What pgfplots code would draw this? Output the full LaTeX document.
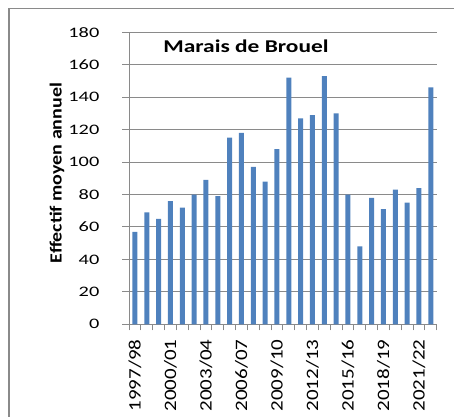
\documentclass[border=0pt]{standalone}
\usepackage{fontspec}
\setmainfont{Carlito}
\usepackage{pgfplots}
\pgfplotsset{compat=1.18}
\definecolor{barblue}{HTML}{4F81BD}
\definecolor{gridgray}{HTML}{8A8A8A}
\begin{document}
\begin{tikzpicture}[x=1bp,y=1bp]
\useasboundingbox (0,0) rectangle (454,416);
\draw[gridgray, line width=1.3bp] (9,-10) -- (9,407.5) -- (470,407.5);
\begin{axis}[
  at={(129bp,91.7bp)}, anchor=south west,
  scale only axis, width=307.7bp, height=292bp,
  xmin=-0.5, xmax=25.5, ymin=0, ymax=180,
  ybar, bar width=5bp,
  ytick={0,20,...,180},
  ymajorgrids, grid style={gridgray, line width=1bp},
  axis x line*=bottom, axis y line*=left,
  axis line style={gridgray, line width=1bp, -},
  tick align=outside,
  major tick length=7bp, minor tick length=6bp,
  major x tick style={draw=none},
  minor x tick style={gridgray, line width=1bp},
  major y tick style={gridgray, line width=1bp},
  xtick={0,...,25},
  minor xtick={-0.5,0.5,...,25.5},
  xticklabels={1997/98,,,2000/01,,,2003/04,,,2006/07,,,2009/10,,,2012/13,,,2015/16,,,2018/19,,,2021/22,},
  xticklabel style={yshift=-8bp, rotate=90, anchor=east, yscale=0.83, font=\fontsize{21bp}{21bp}\selectfont, inner sep=0pt},
  yticklabel style={anchor=east, xscale=1.4, font=\fontsize{14.5bp}{15bp}\selectfont, inner sep=0pt, xshift=-16bp},
  /pgf/number format/assume math mode=true,
  clip=false,
]
\addplot[fill=barblue, draw=none] table {
x y
0 57
1 69
2 65
3 76
4 72
5 80
6 89
7 79
8 115
9 118
10 97
11 88
12 108
13 152
14 127
15 129
16 153
17 130
18 80
19 48
20 78
21 71
22 83
23 75
24 84
25 146
};
\end{axis}
\node[rotate=90, yscale=0.85, font=\bfseries\fontsize{20bp}{21bp}\selectfont] at (57,243) {Effectif moyen annuel};
\node[xscale=1.3, font=\bfseries\fontsize{18bp}{19bp}\selectfont] at (246,370) {Marais de Brouel};
\end{tikzpicture}
\end{document}
